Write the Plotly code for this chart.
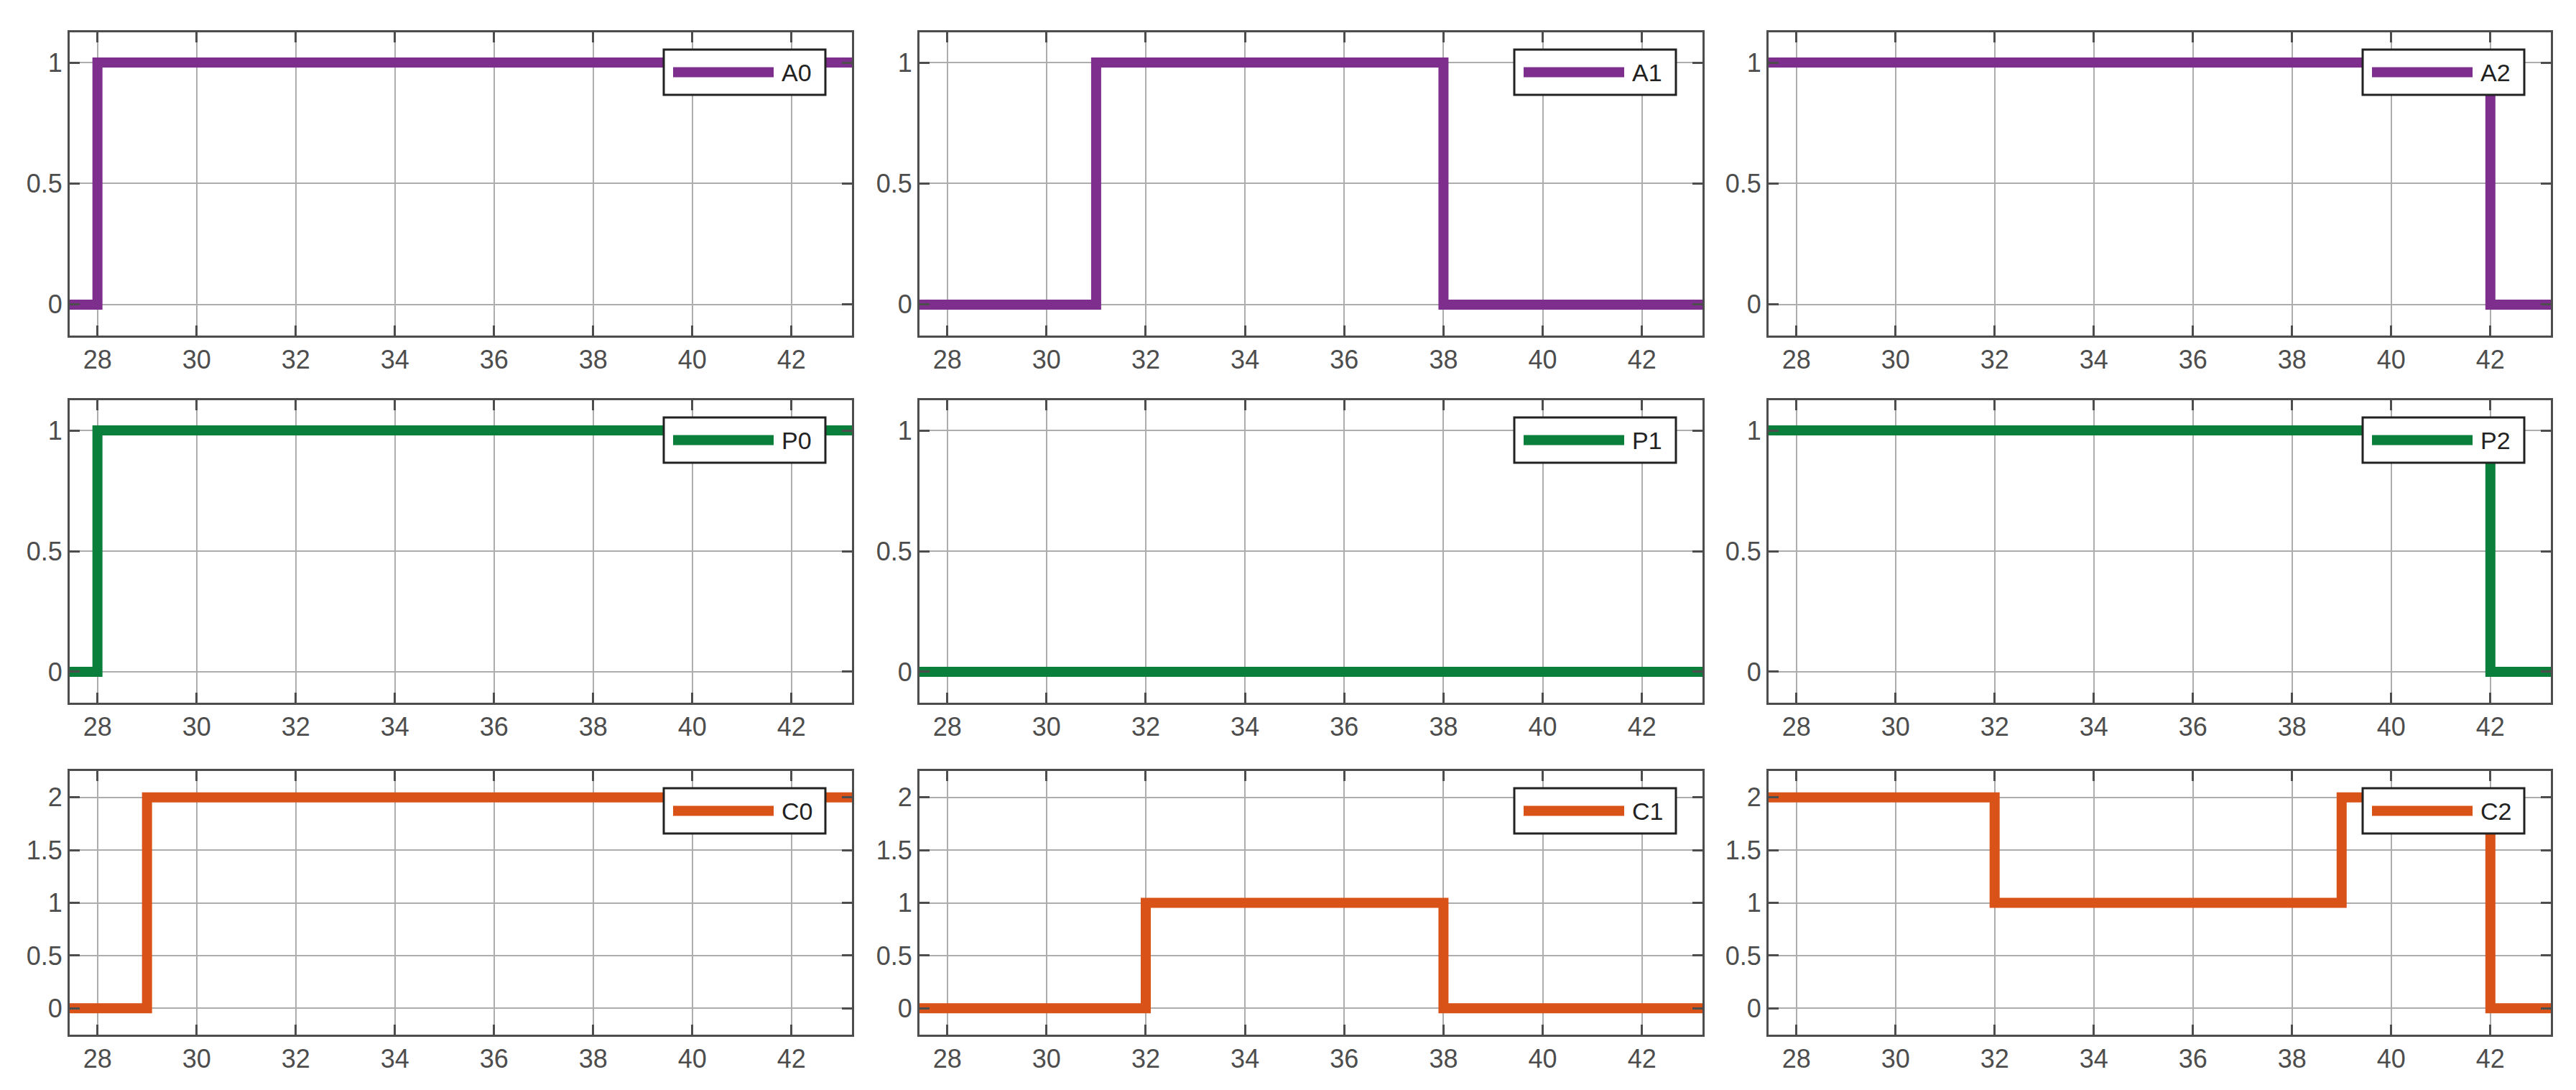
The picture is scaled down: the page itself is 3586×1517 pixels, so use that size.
import plotly.graph_objects as go

W, H = 3586, 1517
names = [["A0", "A1", "A2"], ["P0", "P1", "P2"], ["C0", "C1", "C2"]]
colors = ["#7E2F8E", "#0A7F3C", "#D95319"]
xs = {
    "A0": [27, 28, 44], "A1": [27, 31, 38, 44], "A2": [27, 42, 44],
    "P0": [27, 28, 44], "P1": [27, 44], "P2": [27, 42, 44],
    "C0": [27, 29, 44], "C1": [27, 32, 38, 44], "C2": [27, 32, 39, 42, 44],
}
ys = {
    "A0": [0, 1, 1], "A1": [0, 1, 0, 0], "A2": [1, 0, 0],
    "P0": [0, 1, 1], "P1": [0, 0], "P2": [1, 0, 0],
    "C0": [0, 2, 2], "C1": [0, 1, 0, 0], "C2": [2, 1, 2, 0, 0],
}
yranges = [[-0.128, 1.125], [-0.128, 1.125], [-0.25, 2.25]]
yticks = [[0, 0.5, 1], [0, 0.5, 1], [0, 0.5, 1, 1.5, 2]]
xticks = [28, 30, 32, 34, 36, 38, 40, 42]

cols_px = [(89, 1178), (1272, 2362), (2454, 3543)]
rows_px = [(37, 459), (549, 970), (1065, 1432)]

fig = go.Figure()
shapes, annots = [], []
k = 0
for r in range(3):
    for c in range(3):
        k += 1
        nm = names[r][c]
        xa = "x" if k == 1 else f"x{k}"
        ya = "y" if k == 1 else f"y{k}"
        fig.add_trace(go.Scatter(x=xs[nm], y=ys[nm], mode="lines", line_shape="hv",
                                 line=dict(color=colors[r], width=14), xaxis=xa, yaxis=ya,
                                 showlegend=False, hoverinfo="skip"))
        x0, x1 = cols_px[c]; y0, y1 = rows_px[r]
        common = dict(showline=True, linecolor="#4d4d4d", linewidth=3, mirror="ticks",
                      ticks="inside", ticklen=14, tickwidth=3, tickcolor="#4d4d4d",
                      showgrid=True, gridcolor="#adadad", gridwidth=2, zeroline=False,
                      tickfont=dict(family="Liberation Sans", size=36, color="#4d4d4d"))
        fig.layout[("xaxis" if k == 1 else f"xaxis{k}")] = dict(
            domain=[x0 / W, x1 / W], anchor=ya, range=[27.44, 43.22],
            tickvals=xticks, **common)
        fig.layout[("yaxis" if k == 1 else f"yaxis{k}")] = dict(
            domain=[1 - y1 / H, 1 - y0 / H], anchor=xa, range=yranges[r],
            tickvals=yticks[r], **common)
        pw, ph = x1 - x0, y1 - y0
        xr, yr = f"{xa} domain", f"{ya} domain"
        bx0 = 1 - (37 + 225) / pw; bx1 = 1 - 37 / pw
        by1 = 1 - 24 / ph; by0 = 1 - (24 + 63) / ph
        shapes.append(dict(type="rect", xref=xr, yref=yr, x0=bx0, x1=bx1, y0=by0, y1=by1,
                           fillcolor="white", line=dict(color="#222222", width=3), layer="above"))
        ym = (by0 + by1) / 2
        shapes.append(dict(type="line", xref=xr, yref=yr, x0=bx0 + 13 / pw, x1=bx0 + 153 / pw,
                           y0=ym, y1=ym, line=dict(color=colors[r], width=14), layer="above"))
        annots.append(dict(xref=xr, yref=yr, x=bx0 + 162 / pw, y=ym, text=nm, showarrow=False,
                           xanchor="left", yanchor="middle",
                           font=dict(family="Liberation Sans", size=34, color="#222222")))

fig.update_layout(width=W, height=H, margin=dict(l=0, r=0, t=0, b=0),
                  paper_bgcolor="white", plot_bgcolor="white",
                  shapes=shapes, annotations=annots)
fig.write_html("out.html")
